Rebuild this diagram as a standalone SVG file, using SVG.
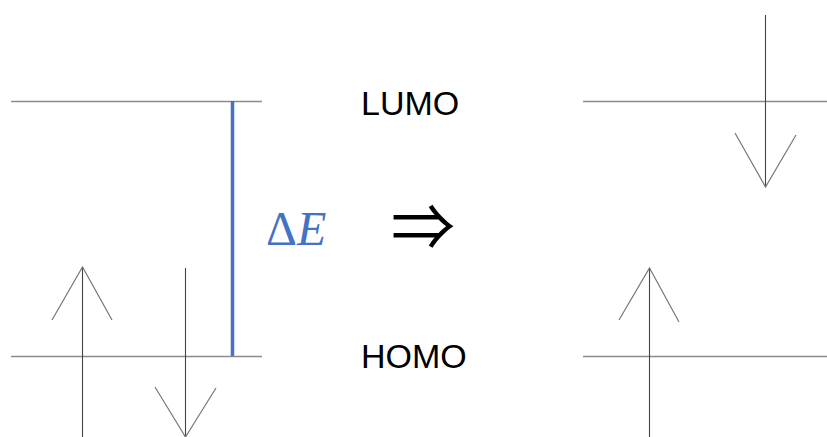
<svg xmlns="http://www.w3.org/2000/svg" width="827" height="437" viewBox="0 0 827 437">
<style>
.lvl{stroke:#8a8a8a;stroke-width:1.4;fill:none}
.shaft{stroke:#444;stroke-width:1.1;fill:none}
.head{stroke:#777;stroke-width:1.2;fill:none}
.lbl{font-family:"Liberation Sans",Arial,sans-serif;font-size:34px;fill:#000}
</style>
<rect width="827" height="437" fill="#fff"/>
<g id="left-lumo"><line class="lvl" x1="11" y1="101.5" x2="262" y2="101.5"/></g>
<g id="left-homo"><line class="lvl" x1="11" y1="356.5" x2="262" y2="356.5"/></g>
<g id="gap"><line x1="232.5" y1="101" x2="232.5" y2="356" stroke="#4472C4" stroke-width="3.5"/></g>
<g id="left-up">
<line class="shaft" x1="82.5" y1="267" x2="82.5" y2="437"/>
<polyline class="head" points="52,320 82.5,267 112,320"/>
</g>
<g id="left-down">
<line class="shaft" x1="185.5" y1="268" x2="185.5" y2="437"/>
<polyline class="head" points="155,387 185.5,437 216,388"/>
</g>
<g id="right-lumo"><line class="lvl" x1="583" y1="101.5" x2="827" y2="101.5"/></g>
<g id="right-homo"><line class="lvl" x1="583" y1="356.5" x2="827" y2="356.5"/></g>
<g id="right-down">
<line class="shaft" x1="765.5" y1="15" x2="765.5" y2="187"/>
<polyline class="head" points="735,133 765.5,187 796,135"/>
</g>
<g id="right-up">
<line class="shaft" x1="649.5" y1="268" x2="649.5" y2="437"/>
<polyline class="head" points="619,320 649.5,268 679,322"/>
</g>
<g id="labels">
<text class="lbl" x="361" y="115">LUMO</text>
<text class="lbl" x="361" y="368">HOMO</text>
<text x="266" y="245" font-family="'Liberation Serif','DejaVu Serif',serif" font-size="48" fill="#4472C4">Δ<tspan font-style="italic">E</tspan></text>
<text x="391" y="250" font-family="'Noto Sans CJK JP',sans-serif" font-size="64" fill="#000">⇒</text>
</g>
</svg>
